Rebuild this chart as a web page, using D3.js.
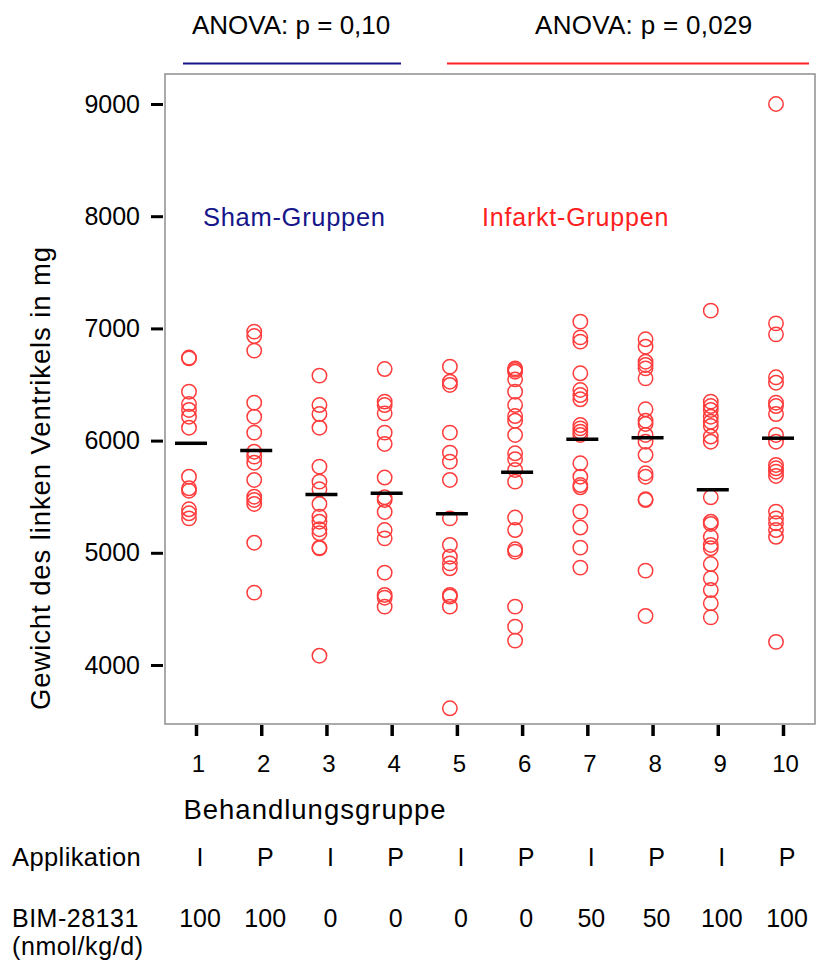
<!DOCTYPE html>
<html>
<head>
<meta charset="utf-8">
<script src="https://cdn.jsdelivr.net/npm/d3@7"></script>
<style>
  body { margin: 0; background: #fff; }
  svg { display: block; }
  text { font-family: "Liberation Sans", Arial, Helvetica, sans-serif; fill: #000; }
</style>
</head>
<body>
<svg id="chart" width="817" height="964"></svg>
<script>
// Treatment groups and their annotations
const groups = [1, 2, 3, 4, 5, 6, 7, 8, 9, 10];
const application = ["I", "P", "I", "P", "I", "P", "I", "P", "I", "P"];
const bimDose = ["100", "100", "0", "0", "0", "0", "50", "50", "100", "100"];
const yTickValues = [4000, 5000, 6000, 7000, 8000, 9000];

// Left ventricular weight (mg) per animal, one array per group
const group1 = [6733, 6740, 6436, 6326, 6273, 6213, 6115, 5678, 5575, 5553, 5388, 5352, 5307];
const group2 = [6971, 6932, 6802, 6338, 6213, 6071, 5901, 5857, 5803, 5649, 5500, 5471, 5435, 5090, 4645];
const group3 = [6579, 6317, 6237, 6115, 5768, 5634, 5566, 5435, 5322, 5277, 5210, 5174, 5046, 5040, 4083];
const group4 = [6638, 6347, 6317, 6243, 6071, 5970, 5671, 5495, 5471, 5364, 5203, 5129, 4823, 4624, 4600, 4520];
const group5 = [6659, 6525, 6496, 6071, 5893, 5813, 5649, 5307, 5070, 4965, 4906, 4862, 4624, 4610, 4520, 3614];
const group6 = [6644, 6630, 6614, 6546, 6436, 6317, 6219, 6177, 6050, 5887, 5834, 5738, 5634, 5314, 5203, 5031, 5010, 4520, 4342, 4217];
const group7 = [7060, 6920, 6882, 6600, 6451, 6406, 6368, 6139, 6109, 6079, 6050, 5798, 5678, 5604, 5584, 5367, 5225, 5046, 4868];
const group8 = [6903, 6837, 6703, 6674, 6644, 6555, 6279, 6177, 6148, 6050, 5990, 5872, 5709, 5678, 5477, 5470, 4841, 4437];
const group9 = [7158, 6347, 6308, 6273, 6213, 6168, 6130, 6036, 5990, 5495, 5277, 5257, 5143, 5070, 5040, 4900, 4773, 4668, 4550, 4425];
const group10 = [9000, 7045, 6947, 6564, 6516, 6338, 6308, 6237, 6050, 5990, 5783, 5753, 5723, 5685, 5367, 5307, 5263, 5203, 5143, 4206];
const weightsByGroup = [group1, group2, group3, group4, group5, group6, group7, group8, group9, group10];

const anovaSham = "ANOVA: p = 0,10";
const anovaInfarct = "ANOVA: p = 0,029";

const NAVY = "#16168a";
const RED = "#ff2020";
const POINT_RED = "#ff3b3b";

const svg = d3.select("#chart");

// Plot frame
const frame = { left: 165, top: 74, right: 815, bottom: 724 };

const x = d3.scaleLinear().domain([1, 10]).range([196, 783]);
const y = d3.scaleLinear().domain([4000, 9000]).range([665, 104]);

svg.append("rect")
  .attr("x", frame.left).attr("y", frame.top)
  .attr("width", frame.right - frame.left).attr("height", frame.bottom - frame.top)
  .attr("fill", "none").attr("stroke", "#8f8f8f").attr("stroke-width", 1.5);

// Y axis
const yAxis = svg.append("g")
  .attr("transform", `translate(${frame.left - 2},0)`)
  .call(d3.axisLeft(y).tickValues(yTickValues).tickSize(12).tickPadding(11).tickFormat(d3.format("d")));
yAxis.select(".domain").remove();
yAxis.selectAll(".tick line").attr("stroke", "#000").attr("stroke-width", 3);
yAxis.selectAll(".tick text").attr("font-size", 25).attr("font-family", null).attr("fill", "#000");

// X axis
const xAxis = svg.append("g")
  .attr("transform", `translate(0,${frame.bottom + 1})`)
  .call(d3.axisBottom(x).tickValues(groups).tickSize(11).tickPadding(19).tickFormat(d3.format("d")));
xAxis.select(".domain").remove();
xAxis.selectAll(".tick line").attr("stroke", "#000").attr("stroke-width", 3.5);
xAxis.selectAll(".tick text").attr("font-size", 24).attr("font-family", null).attr("fill", "#000").attr("dx", 2);

// Individual animals as open circles, slightly left of the tick
const pointOffset = -7;
const pts = svg.append("g");
weightsByGroup.forEach((vals, i) => {
  pts.selectAll(null)
    .data(vals)
    .enter().append("circle")
    .attr("cx", x(groups[i]) + pointOffset)
    .attr("cy", d => y(d))
    .attr("r", 7.2)
    .attr("fill", "none")
    .attr("stroke", POINT_RED)
    .attr("stroke-width", 1.5);
});

// Group means as short black bars
svg.append("g").selectAll("line")
  .data(weightsByGroup.map((vals, i) => ({ g: groups[i], m: d3.mean(vals) })))
  .enter().append("line")
  .attr("x1", d => x(d.g) - 21).attr("x2", d => x(d.g) + 11)
  .attr("y1", d => y(d.m)).attr("y2", d => y(d.m))
  .attr("stroke", "#000").attr("stroke-width", 3.5);

// Group captions inside the plot
svg.append("text").attr("x", 203).attr("y", 226).attr("font-size", 25.5)
  .attr("letter-spacing", 0.7).style("fill", NAVY).text("Sham-Gruppen");
svg.append("text").attr("x", 482).attr("y", 226).attr("font-size", 25)
  .attr("letter-spacing", 0.8).style("fill", RED).text("Infarkt-Gruppen");

// ANOVA annotations with brackets
svg.append("text").attr("x", 192).attr("y", 34).attr("font-size", 26).text(anovaSham);
svg.append("line").attr("x1", 183).attr("x2", 401).attr("y1", 63.5).attr("y2", 63.5)
  .attr("stroke", NAVY).attr("stroke-width", 1.8);
svg.append("text").attr("x", 535).attr("y", 34).attr("font-size", 26)
  .attr("letter-spacing", 0.3).text(anovaInfarct);
svg.append("line").attr("x1", 447).attr("x2", 809).attr("y1", 63.5).attr("y2", 63.5)
  .attr("stroke", RED).attr("stroke-width", 1.8);

// Axis titles
svg.append("text")
  .attr("transform", "translate(50,478) rotate(-90)")
  .attr("text-anchor", "middle").attr("font-size", 27.5).attr("letter-spacing", 0.9)
  .text("Gewicht des linken Ventrikels in mg");
svg.append("text").attr("x", 315).attr("y", 819).attr("text-anchor", "middle")
  .attr("font-size", 27.5).attr("letter-spacing", 1).text("Behandlungsgruppe");

// Treatment table beneath the axis
svg.append("text").attr("x", 12).attr("y", 866).attr("font-size", 25.5)
  .attr("letter-spacing", 0.4).text("Applikation");
svg.append("g").selectAll("text")
  .data(groups)
  .enter().append("text")
  .attr("x", (d) => x(d) + 4).attr("y", 866)
  .attr("text-anchor", "middle").attr("font-size", 25)
  .text((d, i) => application[i]);

svg.append("text").attr("x", 12).attr("y", 927).attr("font-size", 25)
  .attr("letter-spacing", 0.5).text("BIM-28131");
svg.append("text").attr("x", 12).attr("y", 955).attr("font-size", 25)
  .attr("letter-spacing", 0.6).text("(nmol/kg/d)");
svg.append("g").selectAll("text")
  .data(groups)
  .enter().append("text")
  .attr("x", (d) => x(d) + 4).attr("y", 927)
  .attr("text-anchor", "middle").attr("font-size", 25)
  .text((d, i) => bimDose[i]);
</script>
</body>
</html>
